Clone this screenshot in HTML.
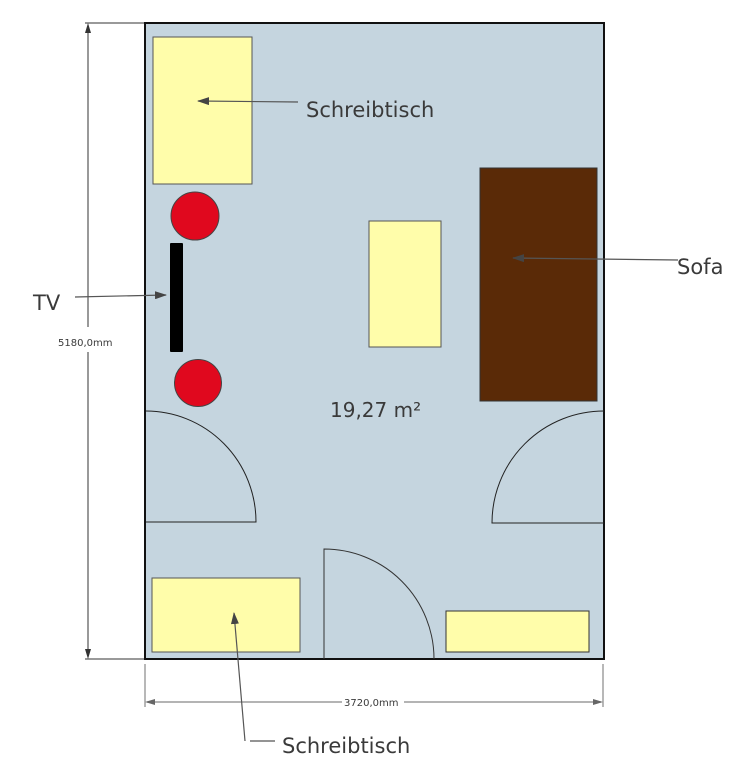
<!DOCTYPE html>
<html><head><meta charset="utf-8"><style>
html,body{margin:0;padding:0;background:#fff;}
svg{display:block;}
text{font-family:"DejaVu Sans","Liberation Sans",sans-serif;fill:#3a3a3a;}
</style></head><body>
<svg width="740" height="771" viewBox="0 0 740 771" xmlns="http://www.w3.org/2000/svg">
<defs>
<marker id="a" markerWidth="12" markerHeight="8" refX="11" refY="4" orient="auto" markerUnits="userSpaceOnUse">
<path d="M0,0 L12,4 L0,8 Z" fill="#444"/></marker>
</defs>
<!-- room -->
<rect x="145" y="23" width="459" height="636" fill="#c5d5df" stroke="#111" stroke-width="2"/>
<!-- furniture -->
<rect x="153" y="37" width="99" height="147" fill="#fffdaa" stroke="#555" stroke-width="1"/>
<rect x="369" y="221" width="72" height="126" fill="#fffdaa" stroke="#555" stroke-width="1"/>
<rect x="480" y="168" width="117" height="233" fill="#5a2a07" stroke="#333" stroke-width="1"/>
<rect x="152" y="578" width="148" height="74" fill="#fffdaa" stroke="#555" stroke-width="1"/>
<rect x="446" y="611" width="143" height="41" fill="#fffdaa" stroke="#333" stroke-width="1"/>
<circle cx="195" cy="216" r="24" fill="#e0081e" stroke="#444" stroke-width="1"/>
<circle cx="198" cy="383" r="23.5" fill="#e0081e" stroke="#444" stroke-width="1"/>
<rect x="170" y="243" width="13" height="109" rx="1" fill="#000"/>
<!-- doors -->
<path d="M146,411 A110,111 0 0 1 256,522 L146,522" fill="none" stroke="#222" stroke-width="1"/>
<path d="M604,411 A112,112 0 0 0 492,523 L604,523" fill="none" stroke="#222" stroke-width="1"/>
<path d="M324,659 L324,549 A110,110 0 0 1 434,659" fill="none" stroke="#333" stroke-width="1"/>
<!-- dimensions -->
<g stroke="#333" stroke-width="1" fill="none">
<line x1="85" y1="23" x2="144" y2="23"/>
<line x1="85" y1="659" x2="144" y2="659"/>
<line x1="88" y1="25" x2="88" y2="327"/>
<line x1="88" y1="352" x2="88" y2="657"/>
</g>
<path d="M88,23 l-3,10 h6z M88,659 l-3,-10 h6z" fill="#333"/>
<text x="58" y="346" font-size="10">5180,0mm</text>
<g stroke="#888" stroke-width="1.2" fill="none">
<line x1="145" y1="664" x2="145" y2="707"/>
<line x1="603" y1="664" x2="603" y2="707"/>
<line x1="147" y1="702" x2="342" y2="702"/>
<line x1="404" y1="702" x2="601" y2="702"/>
</g>
<path d="M145,702 l10,-3 v6z M603,702 l-10,-3 v6z" fill="#666"/>
<text x="344" y="706" font-size="10">3720,0mm</text>
<!-- callouts -->
<g stroke="#555" stroke-width="1.2" fill="none">
<line x1="298" y1="102" x2="198" y2="101" marker-end="url(#a)"/>
<line x1="678" y1="260" x2="513" y2="258" marker-end="url(#a)"/>
<line x1="75" y1="297" x2="166" y2="295" marker-end="url(#a)"/>
<line x1="275" y1="741" x2="250" y2="741"/>
<line x1="245" y1="741" x2="234" y2="613" marker-end="url(#a)"/>
</g>
<text x="306" y="117" font-size="21">Schreibtisch</text>
<text x="677" y="274" font-size="21">Sofa</text>
<text x="33" y="310" font-size="21">TV</text>
<text x="282" y="753" font-size="21">Schreibtisch</text>
<text x="330" y="417" font-size="20">19,27 m²</text>
</svg>
</body></html>
